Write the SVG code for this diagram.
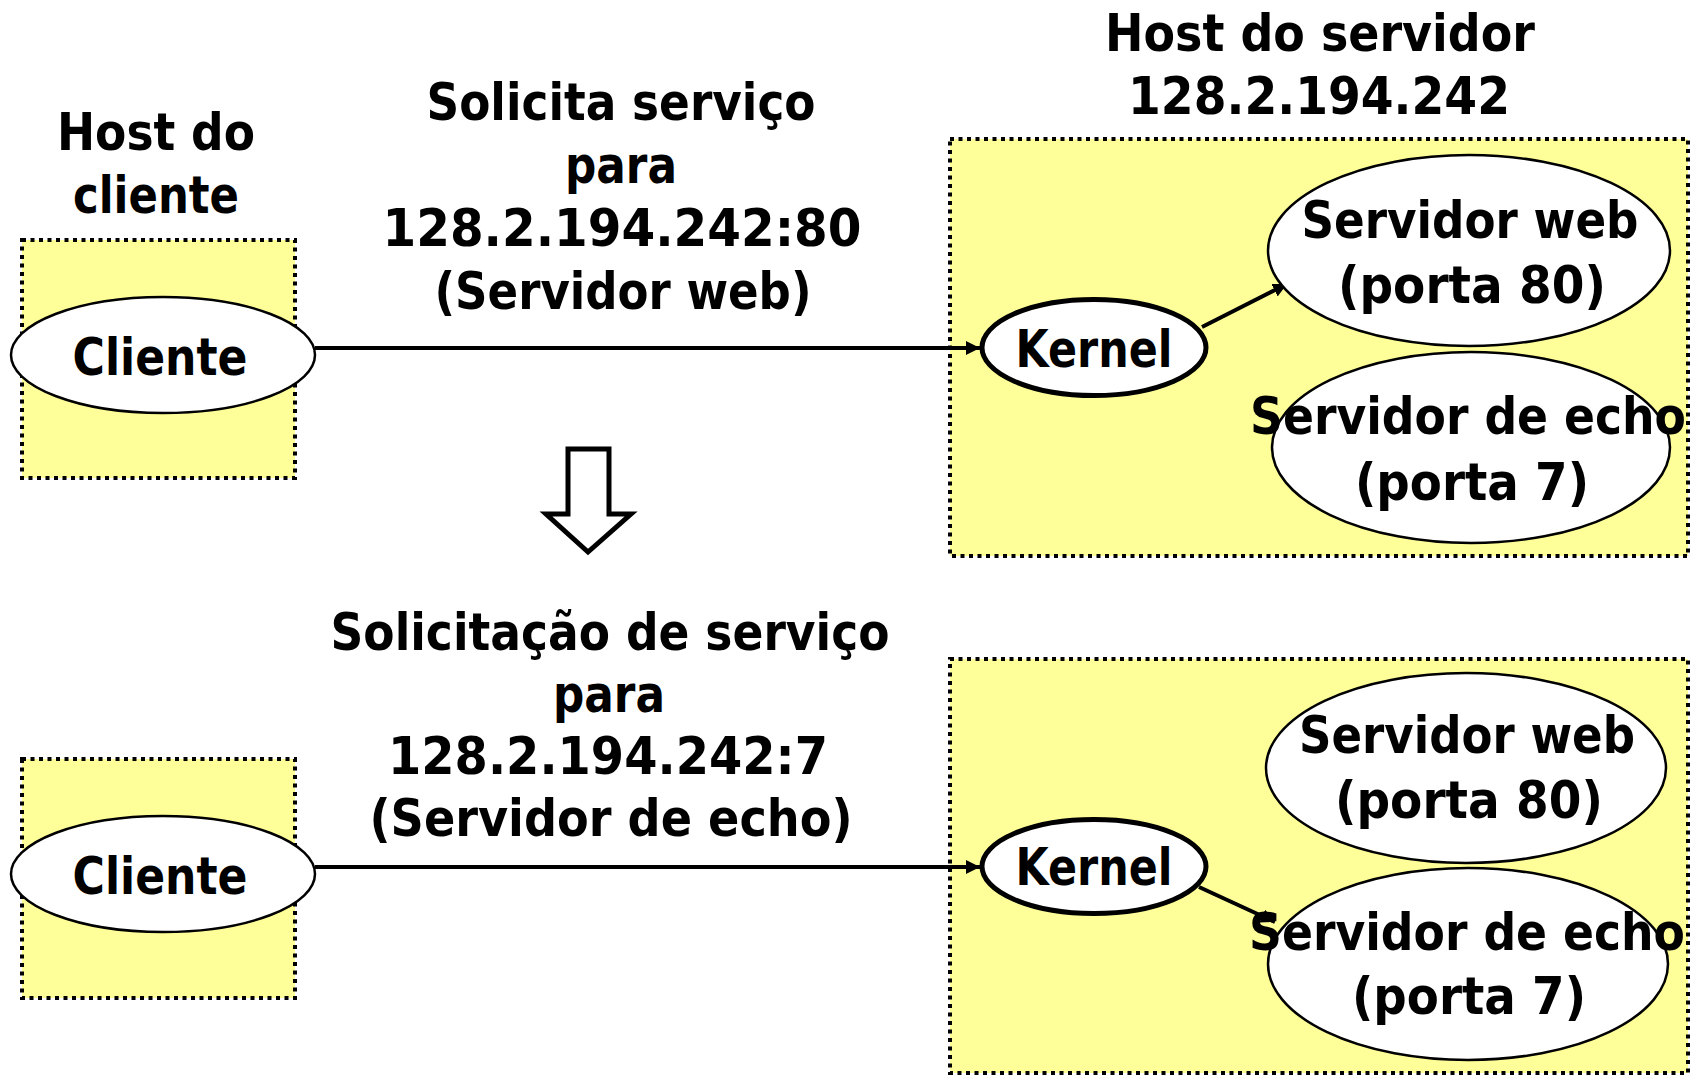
<svg xmlns="http://www.w3.org/2000/svg" width="1701" height="1075" viewBox="0 0 1701 1075">
<defs>
<marker id="ah" markerUnits="userSpaceOnUse" markerWidth="16" markerHeight="16" refX="14" refY="7" orient="auto">
<path d="M0,0 L14,7 L0,14 z" fill="#000"/>
</marker>
<style>
.t{font-family:"DejaVu Sans","Liberation Sans",sans-serif;font-weight:bold;font-size:52px;fill:#000;text-anchor:middle}
.host{fill:#FFFF99;stroke:#000;stroke-width:4;stroke-dasharray:4 4.5}
.el{fill:#fff;stroke:#000;stroke-width:2.5}
.kel{fill:#fff;stroke:#000;stroke-width:5}
.cn{stroke:#000;stroke-width:4;fill:none}
</style>
</defs>
<rect width="1701" height="1075" fill="#fff"/>

<g id="labels">
<text class="t" x="156" y="150" textLength="198" lengthAdjust="spacingAndGlyphs">Host do</text>
<text class="t" x="156" y="213" textLength="166" lengthAdjust="spacingAndGlyphs">cliente</text>
<text class="t" x="621" y="120" textLength="389" lengthAdjust="spacingAndGlyphs">Solicita serviço</text>
<text class="t" x="621" y="183" textLength="112" lengthAdjust="spacingAndGlyphs">para</text>
<text class="t" x="622" y="246" textLength="479" lengthAdjust="spacingAndGlyphs">128.2.194.242:80</text>
<text class="t" x="623" y="309" textLength="377" lengthAdjust="spacingAndGlyphs">(Servidor web)</text>
<text class="t" x="1320" y="51" textLength="430" lengthAdjust="spacingAndGlyphs">Host do servidor</text>
<text class="t" x="1319" y="114" textLength="382" lengthAdjust="spacingAndGlyphs">128.2.194.242</text>
<text class="t" x="610" y="650" textLength="559" lengthAdjust="spacingAndGlyphs">Solicitação de serviço</text>
<text class="t" x="609" y="712" textLength="112" lengthAdjust="spacingAndGlyphs">para</text>
<text class="t" x="608" y="774" textLength="440" lengthAdjust="spacingAndGlyphs">128.2.194.242:7</text>
<text class="t" x="611" y="836" textLength="483" lengthAdjust="spacingAndGlyphs">(Servidor de echo)</text>
</g>

<g id="client-host-1"><rect class="host" x="22" y="240" width="273" height="238"/></g>
<g id="client-host-2"><rect class="host" x="22" y="759" width="273" height="239"/></g>
<g id="server-host-1"><rect class="host" x="950" y="139" width="738" height="417"/></g>
<g id="server-host-2"><rect class="host" x="950" y="659" width="738" height="414"/></g>

<g id="connectors">
<line class="cn" x1="315" y1="348" x2="980" y2="348" marker-end="url(#ah)"/>
<line class="cn" x1="315" y1="867" x2="980" y2="867" marker-end="url(#ah)"/>
<line class="cn" x1="1202" y1="327" x2="1287" y2="284" marker-end="url(#ah)"/>
<line class="cn" x1="1199" y1="887" x2="1275" y2="922" marker-end="url(#ah)"/>
<path d="M568,449 L609,449 L609,514 L631,514 L588,552 L546,514 L568,514 Z" fill="#fff" stroke="#000" stroke-width="5"/>
</g>

<g id="cliente-1">
<ellipse class="el" cx="163" cy="355" rx="152" ry="58" stroke-width="3"/>
<text class="t" x="160" y="375" textLength="175" lengthAdjust="spacingAndGlyphs">Cliente</text>
</g>
<g id="cliente-2">
<ellipse class="el" cx="163" cy="874" rx="152" ry="58" stroke-width="3"/>
<text class="t" x="160" y="894" textLength="175" lengthAdjust="spacingAndGlyphs">Cliente</text>
</g>

<g id="kernel-1">
<ellipse class="kel" cx="1094" cy="347.5" rx="112" ry="48"/>
<text class="t" x="1094" y="367" textLength="157" lengthAdjust="spacingAndGlyphs">Kernel</text>
</g>
<g id="kernel-2">
<ellipse class="kel" cx="1094" cy="866.5" rx="112" ry="47"/>
<text class="t" x="1094" y="885" textLength="157" lengthAdjust="spacingAndGlyphs">Kernel</text>
</g>

<g id="web-1">
<ellipse class="el" cx="1469" cy="250.5" rx="201" ry="95.5"/>
<text class="t" x="1470" y="238" textLength="337" lengthAdjust="spacingAndGlyphs">Servidor web</text>
<text class="t" x="1472" y="303" textLength="268" lengthAdjust="spacingAndGlyphs">(porta 80)</text>
</g>
<g id="echo-1">
<ellipse class="el" cx="1471" cy="447.5" rx="199" ry="95.5"/>
<text class="t" x="1468" y="434" textLength="436" lengthAdjust="spacingAndGlyphs">Servidor de echo</text>
<text class="t" x="1472" y="500" textLength="234" lengthAdjust="spacingAndGlyphs">(porta 7)</text>
</g>
<g id="web-2">
<ellipse class="el" cx="1466" cy="768" rx="200" ry="95"/>
<text class="t" x="1467" y="753" textLength="336" lengthAdjust="spacingAndGlyphs">Servidor web</text>
<text class="t" x="1469" y="818" textLength="268" lengthAdjust="spacingAndGlyphs">(porta 80)</text>
</g>
<g id="echo-2">
<ellipse class="el" cx="1468" cy="964" rx="200" ry="96"/>
<text class="t" x="1467" y="950" textLength="436" lengthAdjust="spacingAndGlyphs">Servidor de echo</text>
<text class="t" x="1469" y="1014" textLength="234" lengthAdjust="spacingAndGlyphs">(porta 7)</text>
</g>
</svg>
